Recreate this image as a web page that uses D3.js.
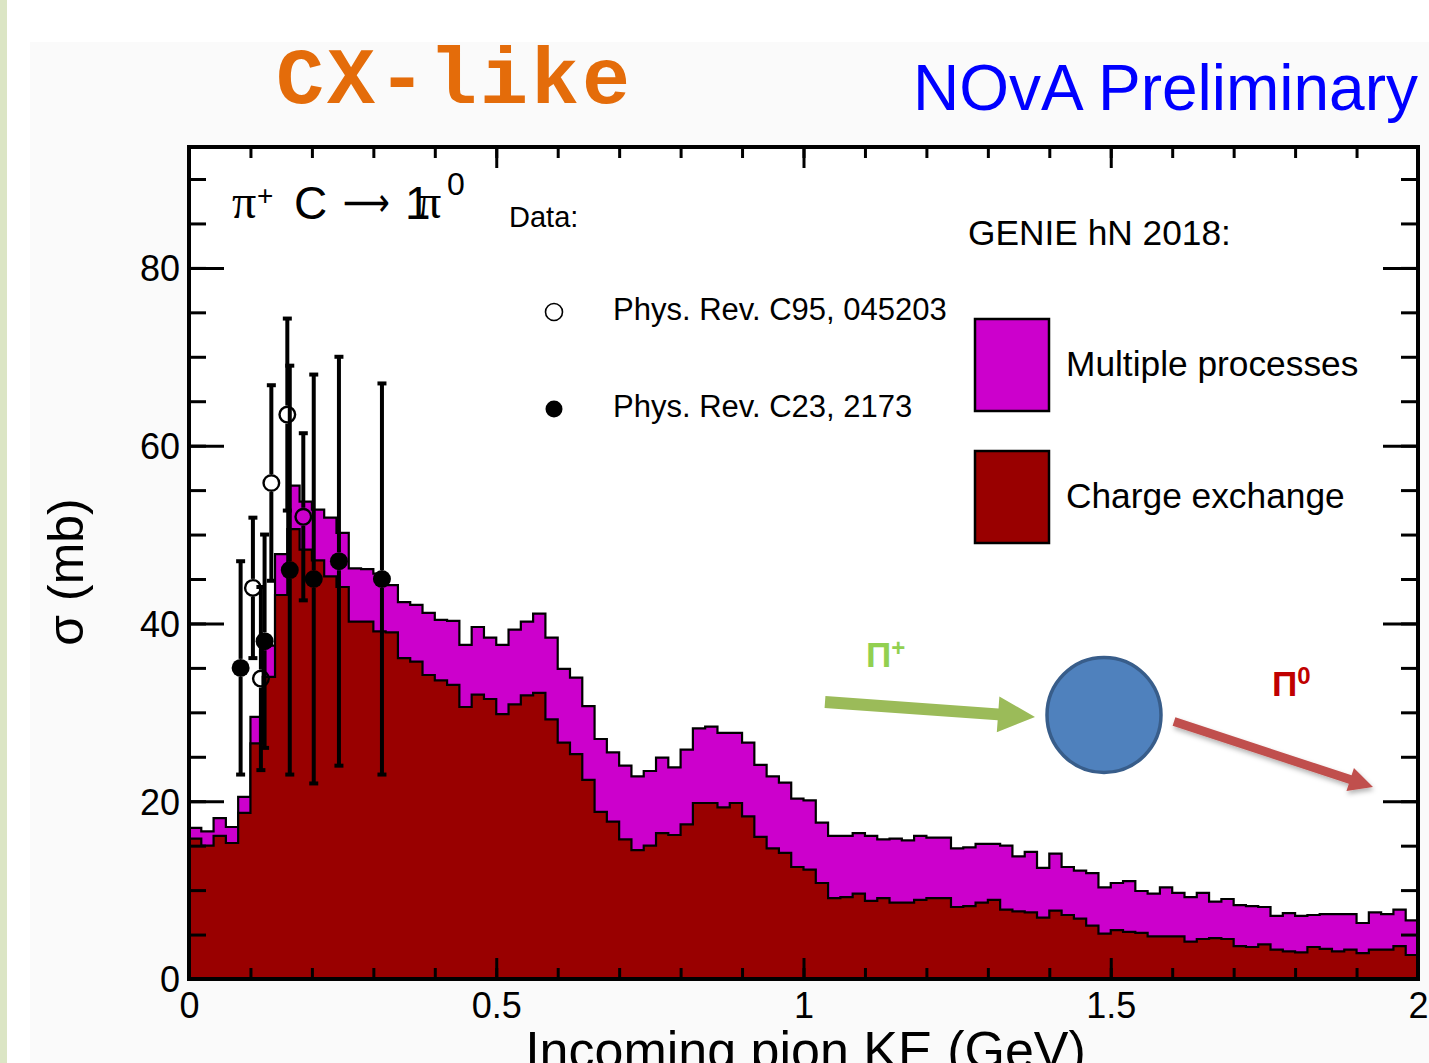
<!DOCTYPE html>
<html>
<head>
<meta charset="utf-8">
<script src="https://cdn.jsdelivr.net/npm/d3@7"></script>
<style>
  html, body { margin: 0; padding: 0; background: #ffffff; }
  svg { display: block; }
</style>
</head>
<body>
<svg id="chart" width="1429" height="1063"></svg>
<script>
// GENIE hN 2018 prediction for pi+ C -> 1pi0, 0.02 GeV bins from 0 to 2 GeV (mb)
const binWidth = 0.02;
// top of the stack: charge exchange + multiple processes
const sigmaTotal = [
  17.0, 16.6, 18.1, 17.1, 20.5, 29.5, 37.5, 47.8, 55.5, 53.7,
  52.8, 51.9, 50.2, 46.2, 46.1, 45.6, 44.3, 42.4, 42.1, 41.2,
  40.4, 40.3, 37.6, 39.6, 38.4, 37.6, 39.3, 40.2, 41.1, 38.4,
  34.9, 33.9, 30.7, 27.0, 25.5, 24.0, 22.8, 23.4, 24.9, 23.8,
  25.8, 28.2, 28.4, 27.7, 27.7, 26.6, 24.1, 22.8, 22.1, 20.3,
  20.1, 17.6, 16.1, 16.1, 16.4, 16.1, 15.7, 15.8, 15.6, 16.1,
  15.9, 15.9, 14.7, 14.8, 15.2, 15.2, 15.0, 13.8, 14.3, 12.5,
  14.1, 12.6, 12.2, 11.9, 10.3, 10.8, 11.0,  9.9,  9.6, 10.3,
   9.7,  9.2,  9.7,  8.7,  9.0,  8.3,  8.2,  8.1,  7.1,  7.4,
   7.1,  7.2,  7.3,  7.3,  7.3,  6.3,  7.5,  7.3,  7.8,  6.6
];
// charge exchange alone
const sigmaCX = [
  15.8, 15.0, 16.1, 15.3, 18.7, 26.5, 34.0, 43.2, 50.6, 48.3,
  47.1, 45.3, 44.1, 40.2, 40.2, 39.1, 39.0, 36.1, 35.7, 34.2,
  33.6, 33.1, 30.6, 32.0, 31.5, 29.8, 30.9, 31.9, 32.2, 29.2,
  26.6, 25.3, 22.4, 18.8, 17.7, 15.7, 14.5, 15.0, 16.4, 16.2,
  17.4, 19.8, 19.8, 19.3, 19.8, 18.3, 16.0, 14.7, 14.2, 12.6,
  12.3, 10.8,  9.1,  9.2,  9.6,  8.8,  9.1,  8.6,  8.6,  8.9,
   9.1,  9.1,  8.1,  8.2,  8.6,  8.9,  7.8,  7.6,  7.5,  6.9,
   7.7,  7.2,  6.8,  6.0,  5.1,  5.5,  5.3,  5.2,  4.8,  4.8,
   4.8,  4.2,  4.5,  4.6,  4.5,  3.7,  3.6,  3.9,  3.3,  3.1,
   3.0,  3.6,  3.4,  3.1,  3.3,  2.9,  3.3,  3.3,  3.7,  2.7
];

// Phys. Rev. C95, 045203 (open circles)
const c95KE    = [0.104, 0.117, 0.134, 0.160, 0.186];
const c95Sigma = [44.0, 33.8, 55.8, 63.5, 52.0];
const c95Err   = [7.9, 10.3, 11.0, 10.8, 9.4];

// Phys. Rev. C23, 2173 (filled circles)
const c23KE    = [0.084, 0.123, 0.164, 0.203, 0.244, 0.314];
const c23Sigma = [35.0, 38.0, 46.0, 45.0, 47.0, 45.0];
const c23Err   = [12.0, 12.0, 23.0, 23.0, 23.0, 22.0];

// axis ticks
const xMajorTicks = [0, 0.5, 1, 1.5, 2];
const xTickLabels = ["0", "0.5", "1", "1.5", "2"];
const yMajorTicks = [0, 20, 40, 60, 80];
const yTickLabels = ["0", "20", "40", "60", "80"];

const W = 1429, H = 1063;
const frame = { left: 189, right: 1418, top: 147, bottom: 979 };
const SANS = "'Liberation Sans', Arial, Helvetica, sans-serif";
const SERIF = "'Liberation Serif', 'Times New Roman', serif";
const MARKER_R = 9;

const svg = d3.select("#chart");
const x = d3.scaleLinear().domain([0, 2]).range([frame.left, frame.right]);
const y = d3.scaleLinear().domain([0, 93.6]).range([frame.bottom, frame.top]);

// page / canvas background
svg.append("rect").attr("width", W).attr("height", H).attr("fill", "#ffffff");
svg.append("rect").attr("x", 0).attr("y", 0).attr("width", 7).attr("height", H).attr("fill", "#dbe5c4");
svg.append("rect").attr("x", 30).attr("y", 42).attr("width", W - 30).attr("height", H - 42).attr("fill", "#fafafa");
svg.append("rect")
  .attr("x", frame.left).attr("y", frame.top)
  .attr("width", frame.right - frame.left).attr("height", frame.bottom - frame.top)
  .attr("fill", "#ffffff");

const defs = svg.append("defs");
defs.append("clipPath").attr("id", "plotClip")
  .append("rect")
  .attr("x", frame.left).attr("y", frame.top)
  .attr("width", frame.right - frame.left).attr("height", frame.bottom - frame.top);
const shadow = defs.append("filter").attr("id", "soft")
  .attr("x", "-20%").attr("y", "-20%").attr("width", "140%").attr("height", "160%");
shadow.append("feDropShadow").attr("dx", 1).attr("dy", 3).attr("stdDeviation", 2.5)
  .attr("flood-color", "#000").attr("flood-opacity", 0.3);

// ---------- stacked histogram ----------
const nBins = sigmaTotal.length;
const stepPoints = arr => d3.range(nBins).map(i => [i * binWidth, arr[i]])
  .concat([[nBins * binWidth, arr[nBins - 1]]]);
const area = d3.area().curve(d3.curveStepAfter)
  .x(d => x(d[0])).y0(y(0)).y1(d => y(d[1]));
const line = d3.line().curve(d3.curveStepAfter)
  .x(d => x(d[0])).y(d => y(d[1]));

const plot = svg.append("g").attr("clip-path", "url(#plotClip)");
const series = [
  { values: sigmaTotal, fill: "#cc00cc" },
  { values: sigmaCX, fill: "#990000" }
];
series.forEach(s => {
  const pts = stepPoints(s.values);
  plot.append("path").datum(pts).attr("d", area).attr("fill", s.fill);
  plot.append("path").datum(pts).attr("d", line)
    .attr("fill", "none").attr("stroke", "#000").attr("stroke-width", 2.2);
});

// ---------- data points (bars stop at the marker edge) ----------
function drawData(ke, sig, err) {
  const pts = ke.map((k, i) => ({ k, s: sig[i], e: err[i] }));
  const g = svg.append("g").attr("clip-path", "url(#plotClip)");
  const bars = g.selectAll(null).data(pts).enter().append("g");
  [-1, 1].forEach(sign => {
    bars.append("line")
      .attr("x1", d => x(d.k)).attr("x2", d => x(d.k))
      .attr("y1", d => y(d.s) - sign * MARKER_R)
      .attr("y2", d => y(d.s + sign * d.e))
      .attr("stroke", "#000").attr("stroke-width", 4);
    bars.append("line")
      .attr("x1", d => x(d.k) - 4.5).attr("x2", d => x(d.k) + 4.5)
      .attr("y1", d => y(d.s + sign * d.e)).attr("y2", d => y(d.s + sign * d.e))
      .attr("stroke", "#000").attr("stroke-width", 4);
  });
  return { g, pts };
}
const open = drawData(c95KE, c95Sigma, c95Err);
const full = drawData(c23KE, c23Sigma, c23Err);
open.g.selectAll(null).data(open.pts).enter().append("circle")
  .attr("cx", d => x(d.k)).attr("cy", d => y(d.s)).attr("r", MARKER_R - 1.2)
  .attr("fill", "none").attr("stroke", "#000").attr("stroke-width", 2.4);
full.g.selectAll(null).data(full.pts).enter().append("circle")
  .attr("cx", d => x(d.k)).attr("cy", d => y(d.s)).attr("r", MARKER_R)
  .attr("fill", "#000");

// ---------- axes (ticks inside on all four sides) ----------
const xMinor = d3.range(0, 2.0001, 0.1);
const yMinor = d3.range(0, 93, 5);
function styleAxis(g) {
  g.select(".domain").remove();
  g.selectAll(".tick line").attr("stroke", "#000").attr("stroke-width", 3);
  g.selectAll("text").attr("font-family", SANS).attr("font-size", 36).attr("fill", "#000");
}
// bottom
svg.append("g").attr("transform", `translate(0,${frame.bottom})`)
  .call(d3.axisBottom(x).tickValues(xMinor).tickSize(-11).tickFormat(""))
  .call(styleAxis);
svg.append("g").attr("transform", `translate(0,${frame.bottom})`)
  .call(d3.axisBottom(x).tickValues(xMajorTicks).tickSize(-21)
    .tickFormat((d, i) => xTickLabels[i]))
  .call(styleAxis)
  .call(g => g.selectAll("text").attr("y", 39).attr("dy", null));
// top
svg.append("g").attr("transform", `translate(0,${frame.top})`)
  .call(d3.axisTop(x).tickValues(xMinor).tickSize(-11).tickFormat(""))
  .call(styleAxis);
svg.append("g").attr("transform", `translate(0,${frame.top})`)
  .call(d3.axisTop(x).tickValues(xMajorTicks).tickSize(-21).tickFormat(""))
  .call(styleAxis);
// left
svg.append("g").attr("transform", `translate(${frame.left},0)`)
  .call(d3.axisLeft(y).tickValues(yMinor).tickSize(-17).tickFormat(""))
  .call(styleAxis);
svg.append("g").attr("transform", `translate(${frame.left},0)`)
  .call(d3.axisLeft(y).tickValues(yMajorTicks).tickSize(-35).tickPadding(9)
    .tickFormat((d, i) => yTickLabels[i]))
  .call(styleAxis)
  .call(g => g.selectAll("text").attr("dy", "0.36em"));
// right
svg.append("g").attr("transform", `translate(${frame.right},0)`)
  .call(d3.axisRight(y).tickValues(yMinor).tickSize(-17).tickFormat(""))
  .call(styleAxis);
svg.append("g").attr("transform", `translate(${frame.right},0)`)
  .call(d3.axisRight(y).tickValues(yMajorTicks).tickSize(-35).tickFormat(""))
  .call(styleAxis);

// frame
svg.append("rect")
  .attr("x", frame.left).attr("y", frame.top)
  .attr("width", frame.right - frame.left).attr("height", frame.bottom - frame.top)
  .attr("fill", "none").attr("stroke", "#000").attr("stroke-width", 4);

// axis titles
svg.append("text")
  .attr("x", (frame.left + frame.right) / 2 + 2).attr("y", 1068)
  .attr("text-anchor", "middle")
  .attr("font-family", SANS).attr("font-size", 52).attr("fill", "#000")
  .text("Incoming pion KE (GeV)");
svg.append("text")
  .attr("transform", "translate(83,572) rotate(-90)")
  .attr("text-anchor", "middle")
  .attr("font-family", SANS).attr("font-size", 50).attr("fill", "#000")
  .text("σ (mb)");

// ---------- headline texts ----------
svg.append("text")
  .attr("x", 276).attr("y", 103)
  .attr("font-family", "'Liberation Mono', 'Courier New', monospace")
  .attr("font-weight", "bold").attr("font-size", 80).attr("letter-spacing", 3)
  .attr("fill", "#e46c0a")
  .text("CX-like");
svg.append("text")
  .attr("x", 1418).attr("y", 110).attr("text-anchor", "end")
  .attr("font-family", SANS).attr("font-size", 64).attr("fill", "#0000ff")
  .text("NOvA Preliminary");

// process label inside the frame
const proc = svg.append("g").attr("fill", "#000");
proc.append("text").attr("x", 232).attr("y", 218)
  .attr("font-family", SERIF).attr("font-size", 48).text("π");
proc.append("text").attr("x", 257).attr("y", 205)
  .attr("font-family", SANS).attr("font-size", 28).text("+");
proc.append("text").attr("x", 294).attr("y", 219)
  .attr("font-family", SANS).attr("font-size", 46).text("C");
proc.append("text").attr("x", 343).attr("y", 216)
  .attr("font-family", "'DejaVu Sans', sans-serif").attr("font-size", 40)
  .attr("textLength", 47).attr("lengthAdjust", "spacingAndGlyphs").text("⟶");
proc.append("text").attr("x", 405).attr("y", 219)
  .attr("font-family", SANS).attr("font-size", 46).text("1");
proc.append("text").attr("x", 417).attr("y", 218)
  .attr("font-family", SERIF).attr("font-size", 48).text("π");
proc.append("text").attr("x", 447).attr("y", 195)
  .attr("font-family", SANS).attr("font-size", 32).text("0");

// ---------- legends ----------
const leg = svg.append("g").attr("font-family", SANS).attr("fill", "#000");
leg.append("text").attr("x", 509).attr("y", 227).attr("font-size", 29).text("Data:");
leg.append("circle").attr("cx", 554).attr("cy", 312).attr("r", 8.5)
  .attr("fill", "none").attr("stroke", "#000").attr("stroke-width", 1.6);
leg.append("text").attr("x", 613).attr("y", 320).attr("font-size", 31).text("Phys. Rev. C95, 045203");
leg.append("circle").attr("cx", 554).attr("cy", 409).attr("r", 8.5).attr("fill", "#000");
leg.append("text").attr("x", 613).attr("y", 417).attr("font-size", 31).text("Phys. Rev. C23, 2173");

leg.append("text").attr("x", 968).attr("y", 245).attr("font-size", 35.3).text("GENIE hN 2018:");
const genieEntries = [
  { label: "Multiple processes", fill: "#cc00cc", top: 319 },
  { label: "Charge exchange", fill: "#990000", top: 451 }
];
genieEntries.forEach(e => {
  leg.append("rect").attr("x", 975).attr("y", e.top).attr("width", 74).attr("height", 92)
    .attr("fill", e.fill).attr("stroke", "#000").attr("stroke-width", 2.5);
  leg.append("text").attr("x", 1066).attr("y", e.top + 57).attr("font-size", 35.3).text(e.label);
});

// ---------- interaction sketch: pi+ in, nucleus, pi0 out ----------
function arrow(x0, y0, x1, y1, shaftHalf, headLen, headHalf) {
  const len = Math.hypot(x1 - x0, y1 - y0);
  const ux = (x1 - x0) / len, uy = (y1 - y0) / len;
  const nx = -uy, ny = ux;
  const bx = x1 - ux * headLen, by = y1 - uy * headLen;
  return [
    [x0 - nx * shaftHalf, y0 - ny * shaftHalf],
    [bx - nx * shaftHalf, by - ny * shaftHalf],
    [bx - nx * headHalf, by - ny * headHalf],
    [x1, y1],
    [bx + nx * headHalf, by + ny * headHalf],
    [bx + nx * shaftHalf, by + ny * shaftHalf],
    [x0 + nx * shaftHalf, y0 + ny * shaftHalf]
  ];
}
const poly = d3.line().curve(d3.curveLinearClosed);
svg.append("path").attr("d", poly(arrow(825, 702, 1035, 717, 6, 37, 18)))
  .attr("fill", "#9bbb59");
svg.append("ellipse").attr("cx", 1104).attr("cy", 715).attr("rx", 57).attr("ry", 57.5)
  .attr("fill", "#4f81bd").attr("stroke", "#385d8a").attr("stroke-width", 3.5);
svg.append("path").attr("d", poly(arrow(1174, 721.5, 1373, 787, 4.4, 24, 12)))
  .attr("fill", "#c0504d").attr("filter", "url(#soft)");

const piPlus = svg.append("text").attr("x", 866).attr("y", 667)
  .attr("font-family", SANS).attr("font-weight", "bold").attr("fill", "#92d050");
piPlus.append("tspan").attr("font-size", 35).text("Π");
piPlus.append("tspan").attr("font-size", 24).attr("dy", -11).text("+");
const piZero = svg.append("text").attr("x", 1272).attr("y", 696)
  .attr("font-family", SANS).attr("font-weight", "bold").attr("fill", "#c00000");
piZero.append("tspan").attr("font-size", 35).text("Π");
piZero.append("tspan").attr("font-size", 24).attr("dy", -12).text("0");
</script>
</body>
</html>
